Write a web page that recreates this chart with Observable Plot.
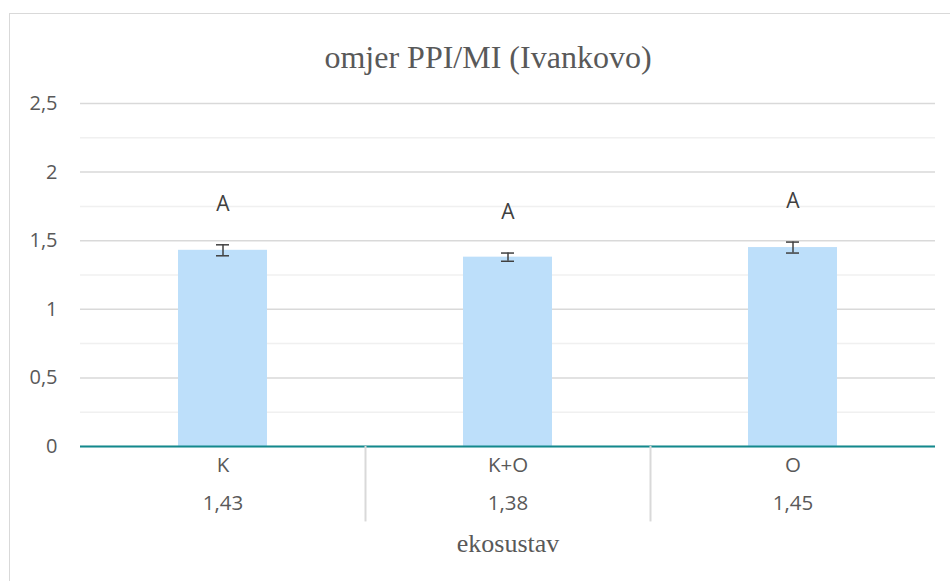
<!DOCTYPE html>
<html>
<head>
<meta charset="utf-8">
<script src="https://cdn.jsdelivr.net/npm/d3@7"></script>
<script src="https://cdn.jsdelivr.net/npm/@observablehq/plot@0.6"></script>
<style>
  html, body { margin: 0; padding: 0; background: #fff; overflow: hidden; }
  #wrap { position: relative; width: 950px; height: 581px; }
  #border { position: absolute; left: 9px; top: 13px; width: 980px; height: 620px; border: 1px solid #d9d9d9; box-sizing: border-box; }
  #chart { position: absolute; left: 0; top: 0; }
  #chart text.serif { font-family: "Liberation Serif", "Times New Roman", serif !important; }
</style>
</head>
<body>
<div id="wrap"><div id="border"></div><div id="chart"></div></div>
<script>
const title = "omjer PPI/MI (Ivankovo)";
const xTitle = "ekosustav";
const categories = ["K", "K+O", "O"];
const values = [1.43, 1.38, 1.45];
const errors = [0.04, 0.03, 0.04];
const letters = ["A", "A", "A"];
const valueLabels = ["1,43", "1,38", "1,45"];
const yTicks = [0, 0.5, 1, 1.5, 2, 2.5];
const yMinorTicks = [0.25, 0.75, 1.25, 1.75, 2.25];

const data = categories.map((c, i) => ({
  cat: c, v: values[i], e: errors[i], letter: letters[i], label: valueLabels[i]
}));

const fmt = d => String(d).replace(".", ",");

const plot = Plot.plot({
  width: 950,
  height: 581,
  marginLeft: 80,
  marginRight: 15,
  marginTop: 103,
  marginBottom: 135,
  style: { fontFamily: "'Open Sans', sans-serif", fontSize: "20px", color: "#595959", background: "transparent", overflow: "visible" },
  x: { domain: categories, padding: 0, axis: null },
  y: { domain: [0, 2.5], axis: null },
  marks: [
    Plot.gridY(yMinorTicks, { stroke: "#f0f0f0", strokeOpacity: 1, strokeWidth: 1.5 }),
    Plot.gridY(yTicks, { stroke: "#d9d9d9", strokeOpacity: 1, strokeWidth: 1.5 }),
    Plot.axisY(yTicks, { tickSize: 0, tickPadding: 23, tickFormat: fmt, fontSize: 20, label: null }),
    Plot.barY(data, { x: "cat", y: "v", fill: "#bddffa", insetLeft: 98, insetRight: 98 }),
    Plot.ruleX(data, { x: "cat", y1: d => d.v - d.e, y2: d => d.v + d.e, stroke: "#404040", strokeWidth: 1.5 }),
    Plot.tickY(data, { x: "cat", y: d => d.v - d.e, stroke: "#404040", strokeWidth: 1.5, insetLeft: 136, insetRight: 136 }),
    Plot.tickY(data, { x: "cat", y: d => d.v + d.e, stroke: "#404040", strokeWidth: 1.5, insetLeft: 136, insetRight: 136 }),
    Plot.text(data, { x: "cat", y: d => d.v + d.e, text: "letter", dy: -41, fontSize: 21, fill: "#404040", lineAnchor: "middle" }),
    Plot.ruleY([0], { stroke: "#13898d", strokeWidth: 2 }),
    Plot.text(data, { x: "cat", text: "cat", frameAnchor: "bottom", dy: 19, lineAnchor: "middle", fontSize: 20.5 }),
    Plot.text(data, { x: "cat", text: "label", frameAnchor: "bottom", dy: 57, lineAnchor: "middle", fontSize: 20.5 }),
    Plot.ruleX(data.slice(0, 2), { x: "cat", dx: 142.5, y1: 0, y2: -0.55, stroke: "#d9d9d9", strokeWidth: 2, clip: false }),
    Plot.text([xTitle], { text: d => d, frameAnchor: "bottom", dy: 97, lineAnchor: "middle", fontSize: 26 }),
    Plot.text([title], { text: d => d, frameAnchor: "top", dy: -46, dx: -20, lineAnchor: "middle", fontSize: 32 })
  ]
});
d3.select(plot).selectAll("text")
  .filter(function () { return this.textContent === title || this.textContent === xTitle; })
  .classed("serif", true)
  .style("font-family", "'Liberation Serif', serif");
document.getElementById("chart").appendChild(plot);
</script>
</body>
</html>
